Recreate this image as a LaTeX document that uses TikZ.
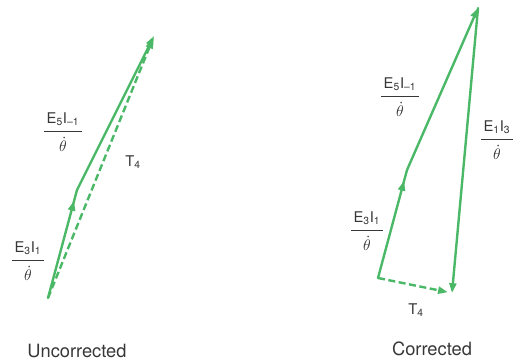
\documentclass[tikz,border=0pt]{standalone}
\usepackage{amsmath}
\usepackage{fontspec}
\setmainfont{TeX Gyre Heros}
\usepackage{xcolor}
\usetikzlibrary{arrows.meta}
\usetikzlibrary{decorations.markings}

\definecolor{vecgreen}{RGB}{74,184,102}
\definecolor{labgray}{RGB}{55,55,55}

% fraction label over theta-dot
\newcommand{\overthd}[1]{$\dfrac{\rule[-4pt]{0pt}{0pt}\,#1\,}{\rule{0pt}{13pt}\dot{\theta}}$}

\begin{document}
\begin{tikzpicture}[
  x=0.025cm, y=-0.025cm,
  vec/.style={
    draw=vecgreen,
    line width=1.7pt,
    line cap=round,
    line join=round
  },
  tip/.style={-{Triangle[length=7pt,width=5pt]}},
  midarr/.style={
    postaction={decorate},
    decoration={markings,
      mark=at position 0.9 with {\arrow{Triangle[length=7pt,width=5pt]}}}
  },
  tvec/.style={
    vec,
    line cap=butt,
    dash pattern=on 5pt off 2.5pt,
    -{Triangle[length=7pt,width=5pt]}
  },
  lbl/.style={text=labgray, font=\fontsize{10.5}{12}\selectfont, inner sep=0pt},
  captxt/.style={text=labgray, font=\fontsize{13}{15}\selectfont}
]
\useasboundingbox (0,0) rectangle (518,361);
% Uncorrected
\coordinate (o1) at (48,298);
\coordinate (a1) at (77,190);
\coordinate (b1) at (154,36);
\draw[vec, midarr] (o1) -- (a1);
\draw[vec, tip] (a1) -- (b1);
\draw[tvec, shorten >=2pt] (o1) -- (b1);
\node[lbl] (u53) at (63,132) {\overthd{\text{E}_{\text{5}}\text{I}_{\text{--1}}}};
\node[lbl] (u31) at (28,261) {\overthd{\text{E}_{\text{3}}\text{I}_{\text{1}}}};
\node[lbl] (ut4) at (133,162) {T$_{\text{4}}$};
\node[captxt] (unc) at (77,351) {Uncorrected};
% Corrected
\coordinate (o2) at (378,278);
\coordinate (a2) at (407,170);
\coordinate (b2) at (478,8);
\coordinate (c2) at (452,293);
\draw[vec, midarr] (o2) -- (a2);
\draw[vec, tip] (a2) -- (b2);
\draw[vec, tip] (b2) -- (c2);
\draw[tvec, shorten >=3pt] (o2) -- (c2);
\node[lbl] (c53) at (400,97) {\overthd{\text{E}_{\text{5}}\text{I}_{\text{--1}}}};
\node[lbl] (c13) at (497,140) {\overthd{\text{E}_{\text{1}}\text{I}_{\text{3}}}};
\node[lbl] (c31) at (367,231) {\overthd{\text{E}_{\text{3}}\text{I}_{\text{1}}}};
\node[lbl] (ct4) at (416,310) {T$_{\text{4}}$};
\node[captxt] (cor) at (432,349) {Corrected};
\end{tikzpicture}
\end{document}
